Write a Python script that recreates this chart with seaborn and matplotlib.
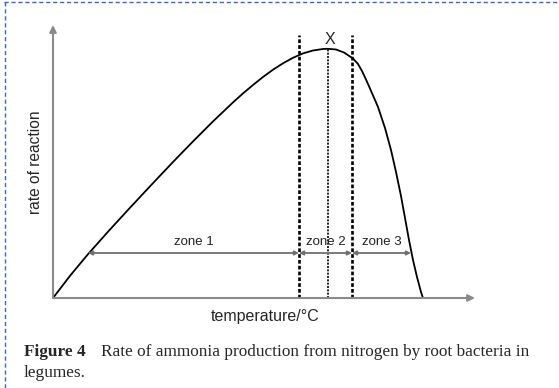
import matplotlib
matplotlib.use("Agg")
import matplotlib.pyplot as plt
import seaborn as sns
import pandas as pd
from matplotlib.lines import Line2D

# -------------------------------
# Data (arbitrary units)
# -------------------------------
temperature = [0.0, 1.75, 3.5, 5.5, 7.5, 9.7, 12.0, 14.0, 16.0, 18.0,
               19.0, 20.0, 21.0, 22.0, 23.0, 24.0, 25.0, 26.0, 27.0, 27.5,
               28.3, 29.1, 30.0, 30.5, 30.9, 31.3, 31.7, 32.5, 33.2, 33.8,
               34.3, 34.8, 35.2, 35.6, 36.0, 36.4, 36.8, 37.0]
rate = [0.0, 2.28, 4.38, 6.63, 8.81, 11.17, 13.6, 15.66, 17.66, 19.56,
        20.46, 21.3, 22.1, 22.83, 23.47, 24.02, 24.46, 24.75, 24.9, 24.92,
        24.85, 24.55, 23.95, 23.4, 22.7, 21.85, 20.95, 19.1, 17.0, 14.8,
        12.6, 10.2, 8.0, 5.8, 3.8, 2.1, 0.6, 0.0]

zone_bounds = [3.5, 24.6, 29.9, 35.8]
zone_names = ["zone 1", "zone 2", "zone 3"]
optimum = 27.5

curve = pd.DataFrame({"temperature": temperature, "rate": rate})

# -------------------------------
# Plot
# -------------------------------
sns.set_style("white")
plt.rcParams["font.family"] = ["Liberation Sans", "DejaVu Sans"]

fig = plt.figure(figsize=(5.59, 3.88), dpi=100)
W, H = 559, 388
ax = fig.add_axes([53 / W, (H - 298) / H, (475 - 53) / W, (298 - 25) / H])
ax.set_xlim(0, 42.2)
ax.set_ylim(0, 27.3)
ax.axis("off")

sns.lineplot(data=curve, x="temperature", y="rate", sort=False,
             color="black", linewidth=1.3, ax=ax)

# axes drawn as arrows
grey = "#8a8a8a"
ax.annotate("", xy=(0, 27.3), xytext=(0, 0), annotation_clip=False,
            arrowprops=dict(arrowstyle="-|>", color=grey, lw=1.5,
                            mutation_scale=10, shrinkA=0, shrinkB=0))
ax.annotate("", xy=(42.2, 0), xytext=(0, 0), annotation_clip=False,
            arrowprops=dict(arrowstyle="-|>", color=grey, lw=1.5,
                            mutation_scale=10, shrinkA=0, shrinkB=0))

# zone boundaries
for xb in (zone_bounds[1], zone_bounds[2]):
    ax.plot([xb, xb], [0, 26.3], color="black", lw=1.9,
            linestyle=(0, (1.4, 0.8)), solid_capstyle="butt")
ax.plot([optimum, optimum], [0, 24.95], color="black", lw=1.2,
        linestyle=(0, (1.2, 0.8)))
ax.text(optimum + 0.2, 25.8, "X", ha="center", va="center", fontsize=11.5)

# zone arrows and labels
for i, name in enumerate(zone_names):
    a, b = zone_bounds[i], zone_bounds[i + 1]
    ax.annotate("", xy=(b, 4.5), xytext=(a, 4.5),
                arrowprops=dict(arrowstyle="<|-|>", color="#707070", lw=1.3,
                                mutation_scale=6, shrinkA=0, shrinkB=0))
    ax.text((a + b) / 2, 5.0, name, ha="center", va="bottom", fontsize=9.5,
            color="#222222")

ax.text(21.2, -1.1, "temperature/°C", ha="center", va="top", fontsize=11.5)
ax.text(-1.8, 13.6, "rate of reaction", ha="center", va="center",
        rotation=90, fontsize=11.2)

# caption
cap = dict(family="Liberation Serif", fontsize=12.4, va="center", ha="left")
fig.text(24 / W, 1 - 352 / H, "Figure 4", fontweight="bold", **cap)
fig.text(101 / W, 1 - 352 / H,
         "Rate of ammonia production from nitrogen by root bacteria in", **cap)
fig.text(24 / W, 1 - 373 / H, "legumes.", **cap)

# dashed blue frame
blue = "#3a67c4"
fig.add_artist(Line2D([4 / W, 1], [1 - 1.5 / H, 1 - 1.5 / H], color=blue,
                      lw=1.0, linestyle=(0, (3, 2))))
fig.add_artist(Line2D([4.5 / W, 4.5 / W], [0, 1 - 1.5 / H], color=blue,
                      lw=1.0, linestyle=(0, (3, 2))))

plt.savefig("out.png", dpi=100)
